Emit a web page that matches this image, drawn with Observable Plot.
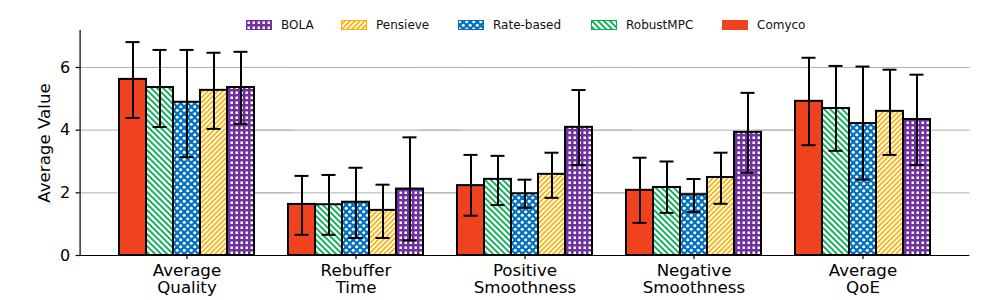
<!DOCTYPE html>
<html><head><meta charset="utf-8">
<script src="https://cdn.jsdelivr.net/npm/d3@7"></script>
<script src="https://cdn.jsdelivr.net/npm/@observablehq/plot@0.6"></script>
<style>
body{margin:0;background:#fff;font-family:"DejaVu Sans",sans-serif}
#wrap{position:relative;width:1000px;height:300px}
.item{position:absolute;top:18px;height:14px;display:flex;align-items:center;font-size:12px;color:#111;white-space:nowrap}
.item svg{margin-right:9px}
</style>
</head><body>
<svg width="0" height="0" style="position:absolute">
<defs>
<pattern id="p-robust" patternUnits="userSpaceOnUse" width="6" height="6">
<rect width="6" height="6" fill="#fff"/>
<path d="M0,0L6,6M-1,5L1,7M5,-1L7,1" stroke="#00b050" stroke-width="1.8"/>
</pattern>
<pattern id="p-pensieve" patternUnits="userSpaceOnUse" width="5" height="5">
<rect width="5" height="5" fill="#fff"/>
<path d="M0,5L5,0M-1,1L1,-1M4,6L6,4" stroke="#ffb000" stroke-width="1.6"/>
</pattern>
<pattern id="p-rate" patternUnits="userSpaceOnUse" width="7" height="7">
<rect width="7" height="7" fill="#0070c0"/>
<circle cx="1.75" cy="1.75" r="1.55" fill="#fff"/>
<circle cx="5.25" cy="5.25" r="1.55" fill="#fff"/>
</pattern>
<pattern id="p-bola" patternUnits="userSpaceOnUse" width="5" height="5">
<rect width="5" height="5" fill="#7030a0"/>
<rect x="1.5" y="1.5" width="2.5" height="2.5" fill="#fff"/>
</pattern>
</defs></svg>
<div id="wrap"><div id="chart"></div></div>
<script>
const metrics = ["Average\nQuality", "Rebuffer\nTime", "Positive\nSmoothness", "Negative\nSmoothness", "Average\nQoE"];
const methods = ["Comyco", "RobustMPC", "Rate-based", "Pensieve", "BOLA"];
const legendOrder = ["BOLA", "Pensieve", "Rate-based", "RobustMPC", "Comyco"];
const yLabel = "Average Value";

const comycoMean = [5.62, 1.63, 2.23, 2.08, 4.92];
const comycoLo   = [4.39, 0.66, 1.27, 1.04, 3.52];
const comycoHi   = [6.81, 2.54, 3.21, 3.12, 6.31];

const robustMean = [5.36, 1.62, 2.43, 2.17, 4.69];
const robustLo   = [4.10, 0.66, 1.61, 1.36, 3.34];
const robustHi   = [6.56, 2.57, 3.18, 3.00, 6.05];

const rateMean = [4.89, 1.70, 1.97, 1.94, 4.21];
const rateLo   = [3.14, 0.56, 1.52, 1.39, 2.42];
const rateHi   = [6.56, 2.80, 2.42, 2.44, 6.03];

const pensieveMean = [5.27, 1.44, 2.59, 2.49, 4.60];
const pensieveLo   = [4.04, 0.56, 1.84, 1.65, 3.21];
const pensieveHi   = [6.47, 2.26, 3.28, 3.28, 5.93];

const bolaMean = [5.36, 2.12, 4.09, 3.93, 4.34];
const bolaLo   = [4.20, 0.48, 2.89, 2.64, 2.89];
const bolaHi   = [6.50, 3.77, 5.28, 5.19, 5.77];

const yTicks = [0, 2, 4, 6];
const gridTicks = [2, 4, 6];

const series = [
  ["Comyco", comycoMean, comycoLo, comycoHi],
  ["RobustMPC", robustMean, robustLo, robustHi],
  ["Rate-based", rateMean, rateLo, rateHi],
  ["Pensieve", pensieveMean, pensieveLo, pensieveHi],
  ["BOLA", bolaMean, bolaLo, bolaHi]
];
const fills = ["#f0421e", "url(#p-robust)", "url(#p-rate)", "url(#p-pensieve)", "url(#p-bola)"];
const edges = ["#f0421e", "#00b050", "#0070c0", "#ffb000", "#7030a0"];

const rows = [];
for (const [method, mean, lo, hi] of series) {
  metrics.forEach((metric, j) => rows.push({metric, method, mean: mean[j], lo: lo[j], hi: hi[j]}));
}

const outer = 39.4; // gap between plot frame and first/last group
const chart = Plot.plot({
  width: 1000, height: 300,
  marginLeft: 80, marginRight: 30, marginTop: 30, marginBottom: 45,
  style: {fontFamily: "DejaVu Sans, sans-serif", background: "#fff", color: "#000"},
  fx: {domain: metrics, paddingInner: 0.2, paddingOuter: 0.233, label: null},
  x: {domain: methods, padding: 0, axis: null},
  y: {domain: [0, 7.18]},
  color: {domain: methods, range: fills},
  marks: [
    Plot.ruleY(gridTicks, {stroke: "#b0b0b0", strokeWidth: 1, insetLeft: -outer, insetRight: -outer}),
    Plot.barY(rows, {fx: "metric", x: "method", y: "mean", fill: "method", stroke: "#000", strokeWidth: 2}),
    Plot.ruleX(rows, {fx: "metric", x: "method", y1: "lo", y2: "hi", stroke: "#000", strokeWidth: 2}),
    Plot.tickY(rows, {fx: "metric", x: "method", y: "lo", stroke: "#000", strokeWidth: 2, insetLeft: 6.5, insetRight: 6.5}),
    Plot.tickY(rows, {fx: "metric", x: "method", y: "hi", stroke: "#000", strokeWidth: 2, insetLeft: 6.5, insetRight: 6.5}),
    Plot.ruleY([0], {stroke: "#000", strokeWidth: 1.2, insetLeft: -outer, insetRight: -outer}),
    Plot.frame({anchor: "left", facet: "super", stroke: "#000", strokeWidth: 1.2, dx: -outer}),
    Plot.axisY({ticks: yTicks, tickSize: 4, tickPadding: 6, fontSize: 16, label: null, stroke: "#000", strokeWidth: 1.2, dx: -outer}),
    Plot.axisFx({anchor: "bottom", tickSize: 4, tickPadding: 4, label: null, fontSize: 16.67, lineHeight: 1.02, strokeWidth: 1.2}),
    Plot.text([yLabel], {text: d => d, frameAnchor: "left", textAnchor: "middle", lineAnchor: "middle", rotate: -90, dx: -35 - outer, fontSize: 16.67, facet: "super"})
  ]
});
const wrap = document.getElementById("wrap");
document.getElementById("chart").appendChild(chart);

const legendLeft = [246, 341, 458, 591, 722];
legendOrder.forEach((m, i) => {
  const k = methods.indexOf(m);
  const div = document.createElement("div");
  div.className = "item";
  div.style.left = legendLeft[i] + "px";
  div.innerHTML = `<svg width="26" height="10"><rect x="0.5" y="0.5" width="25" height="9" fill="${fills[k]}" stroke="${edges[k]}" stroke-width="1"/></svg><span>${m}</span>`;
  wrap.appendChild(div);
});
</script>
</body></html>
